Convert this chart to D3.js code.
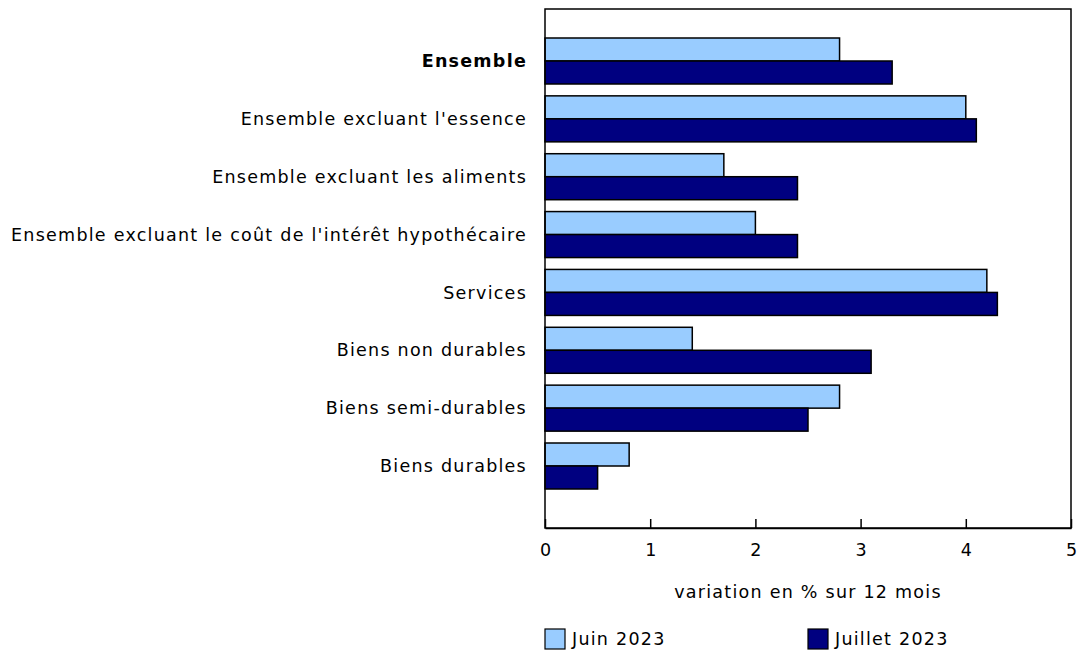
<!DOCTYPE html>
<html><head><meta charset="utf-8">
<script src="https://cdn.jsdelivr.net/npm/d3@7"></script>
<style>body{margin:0;background:#fff}text{font-family:"DejaVu Sans",Verdana,sans-serif;fill:#000;font-size:17.5px;letter-spacing:1.25px}</style>
</head><body>
<svg id="c" width="1079" height="654"></svg>
<script>
const categories = ["Ensemble","Ensemble excluant l'essence","Ensemble excluant les aliments","Ensemble excluant le coût de l'intérêt hypothécaire","Services","Biens non durables","Biens semi-durables","Biens durables"];
const juin2023 = [2.8,4.0,1.7,2.0,4.2,1.4,2.8,0.8];
const juillet2023 = [3.3,4.1,2.4,2.4,4.3,3.1,2.5,0.5];
const seriesNames = ["Juin 2023","Juillet 2023"];
const colors = ["#99ccff","#000080"];
const xTicks = [0,1,2,3,4,5];
const axisTitle = "variation en % sur 12 mois";

(function(){
const svg = d3.select("#c");
const pL=545, pR=1071, pT=9, pB=528;
const x = d3.scaleLinear().domain([0,5]).range([pL,pR]);
const y = d3.scaleBand().domain(categories).range([38,489]).paddingInner(0.205).paddingOuter(0);
const ys = d3.scaleBand().domain([0,1]).range([0,y.bandwidth()]);
const series=[juin2023,juillet2023];

series.forEach((vals,si)=>{
  svg.append("g").selectAll("rect").data(categories).join("rect")
    .attr("x",x(0)).attr("y",(d)=>y(d)+ys(si))
    .attr("width",(d,i)=>x(vals[i])-x(0)).attr("height",ys.bandwidth())
    .attr("fill",colors[si]).attr("stroke","#000").attr("stroke-width",1.5);
});

svg.append("rect").attr("x",pL).attr("y",pT).attr("width",pR-pL).attr("height",pB-pT)
  .attr("fill","none").attr("stroke","#000").attr("stroke-width",1.5);

const xa = svg.append("g").attr("transform",`translate(0,${pB})`)
  .call(d3.axisBottom(x).tickValues(xTicks).tickSizeInner(-9).tickSizeOuter(0).tickPadding(16).tickFormat(d3.format("d")));
xa.attr("font-size",null).attr("font-family",null);
xa.select(".domain").attr("stroke","#000").attr("stroke-width",1.5);
xa.selectAll(".tick line").attr("stroke","#000").attr("stroke-width",1.5);
xa.selectAll("text").attr("fill","#000").style("letter-spacing","0px");

svg.append("g").selectAll("text").data(categories).join("text")
  .attr("x",527).attr("y",d=>y(d)+y.bandwidth()/2).attr("dy","0.35em")
  .attr("text-anchor","end")
  .style("font-weight",(d,i)=>i===0?"bold":"normal").text(d=>d);

svg.append("text").attr("x",808).attr("y",598).attr("text-anchor","middle").text(axisTitle);

const lg = svg.append("g");
const lx=[545,808];
seriesNames.forEach((n,i)=>{
  lg.append("rect").attr("x",lx[i]).attr("y",629).attr("width",20).attr("height",20)
    .attr("fill",colors[i]).attr("stroke","#000").attr("stroke-width",1.2);
  lg.append("text").attr("x",lx[i]+27).attr("y",645).text(n);
});
})();
</script>
</body></html>
